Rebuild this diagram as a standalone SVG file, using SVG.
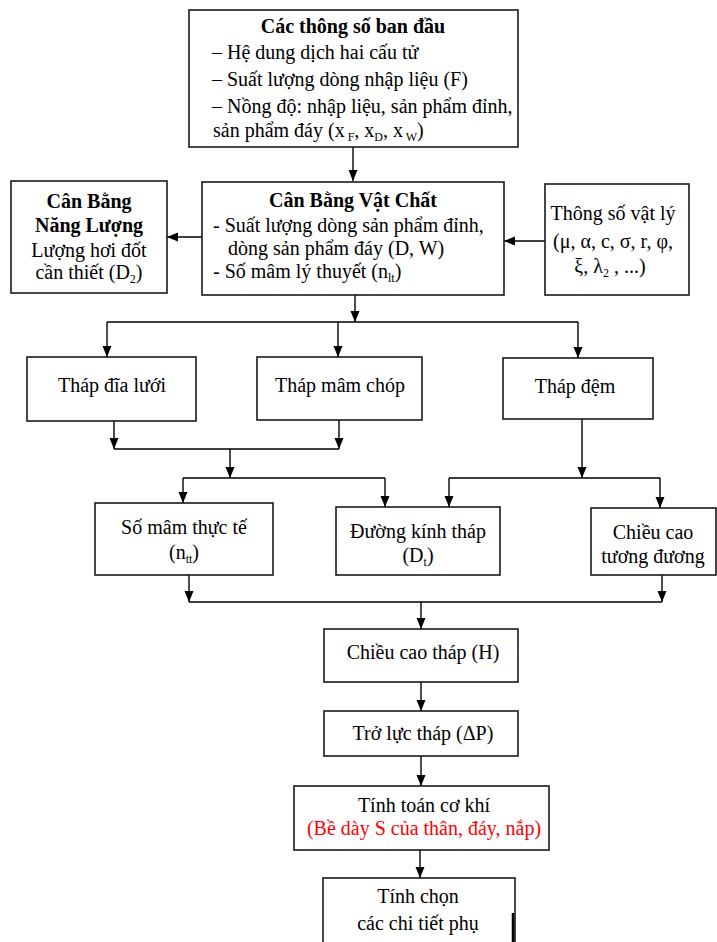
<svg xmlns="http://www.w3.org/2000/svg" width="717" height="942" viewBox="0 0 717 942">
<defs>
<marker id="ah" markerUnits="userSpaceOnUse" markerWidth="12" markerHeight="12" viewBox="0 0 12 12" refX="11" refY="6" orient="auto">
<path d="M0,1.5 L11,6 L0,10.5 Z" fill="#000"/>
</marker>
<style>
.box{fill:#fff;stroke:#1a1a1a;stroke-width:1.6}
.t{font-family:"Liberation Serif","Times New Roman",serif;font-size:20px;fill:#000}
.c{text-anchor:middle}
.b{font-weight:bold}
.red{fill:#ff0000}
.ln{fill:none;stroke:#000;stroke-width:1.4}
.ar{fill:none;stroke:#000;stroke-width:1.4;marker-end:url(#ah)}
.sub{font-size:12px}
.sq{fill:none;stroke:#3a9a3a;stroke-width:0.8}
</style>
</defs>
<rect width="717" height="942" fill="#fff"/>

<g id="connectors">
<line class="ar" x1="353" y1="147" x2="353" y2="181"/>
<line class="ar" x1="202" y1="237" x2="167" y2="237"/>
<line class="ar" x1="545" y1="241" x2="504" y2="241"/>
<line class="ar" x1="355" y1="295" x2="355" y2="322"/>
<line class="ln" x1="107" y1="322" x2="578" y2="322"/>
<line class="ar" x1="107" y1="322" x2="107" y2="357"/>
<line class="ar" x1="338" y1="322" x2="338" y2="357"/>
<line class="ar" x1="578" y1="322" x2="578" y2="358"/>
<line class="ar" x1="114" y1="421" x2="114" y2="449"/>
<line class="ar" x1="339" y1="420" x2="339" y2="449"/>
<line class="ln" x1="114" y1="449" x2="339" y2="449"/>
<line class="ar" x1="230" y1="449" x2="230" y2="478"/>
<line class="ln" x1="183" y1="478" x2="385" y2="478"/>
<line class="ar" x1="183" y1="478" x2="183" y2="503"/>
<line class="ar" x1="385" y1="478" x2="385" y2="507"/>
<line class="ar" x1="582" y1="419" x2="582" y2="478"/>
<line class="ln" x1="449" y1="478" x2="660" y2="478"/>
<line class="ar" x1="449" y1="478" x2="449" y2="507"/>
<line class="ar" x1="660" y1="478" x2="660" y2="508"/>
<line class="ar" x1="189" y1="575" x2="189" y2="602"/>
<line class="ar" x1="662" y1="575" x2="662" y2="602"/>
<line class="ln" x1="189" y1="602" x2="662" y2="602"/>
<line class="ar" x1="421" y1="602" x2="421" y2="629"/>
<line class="ar" x1="421" y1="682" x2="421" y2="711"/>
<line class="ar" x1="421" y1="756" x2="421" y2="786"/>
<line class="ar" x1="420" y1="850" x2="420" y2="878"/>
</g>

<g id="n-thongso-bandau">
<rect class="box" x="189" y="10" width="329" height="137"/>
<text class="t b c" x="353" y="33">Các thông số ban đầu</text>
<text class="t" x="212" y="59">– Hệ dung dịch hai cấu tử</text>
<text class="t" x="212" y="86">– Suất lượng dòng nhập liệu (F)</text>
<text class="t" x="212" y="113">– Nồng độ: nhập liệu, sản phẩm  đỉnh,</text>
<text class="t" x="213" y="137">sản phẩm  đáy (x<tspan class="sub" dy="4"> F</tspan><tspan dy="-4">, x</tspan><tspan class="sub" dy="4">D</tspan><tspan dy="-4">, x</tspan><tspan class="sub" dy="4"> W</tspan><tspan dy="-4">)</tspan></text>
</g>

<g id="n-canbang-nangluong">
<rect class="box" x="11" y="181" width="156" height="112"/>
<text class="t b c" x="89" y="208">Cân Bằng</text>
<text class="t b c" x="89" y="232">Năng Lượng</text>
<text class="t c" x="89" y="257">Lượng hơi đốt</text>
<text class="t c" x="89" y="279">cần thiết (D<tspan class="sub" dy="4">2</tspan><tspan dy="-4">)</tspan></text>
</g>

<g id="n-canbang-vatchat">
<rect class="box" x="202" y="182" width="302" height="113"/>
<text class="t b c" x="353" y="207">Cân Bằng Vật Chất</text>
<text class="t" x="213" y="232">- Suất lượng dòng sản phẩm  đỉnh,</text>
<text class="t" x="228" y="255">dòng sản phẩm  đáy (D, W)</text>
<text class="t" x="213" y="278">- Số mâm lý thuyết (n<tspan class="sub" dy="4">lt</tspan><tspan dy="-4">)</tspan></text>
</g>

<g id="n-thongso-vatly">
<rect class="box" x="545" y="184" width="144" height="111"/>
<text class="t c" x="613" y="220">Thông số vật lý</text>
<text class="t c" x="613" y="248">(μ, α, c, σ, r, φ,</text>
<text class="t c" x="610" y="273">ξ, λ<tspan class="sub" dy="4">2</tspan><tspan dy="-4"> , ...)</tspan></text>
</g>

<g id="n-thap-dia-luoi">
<rect class="box" x="27" y="357" width="169" height="64"/>
<text class="t c" x="112" y="392">Tháp đĩa lưới</text>
</g>

<g id="n-thap-mam-chop">
<rect class="box" x="257" y="357" width="165" height="63"/>
<text class="t c" x="340" y="392">Tháp mâm chóp</text>
</g>

<g id="n-thap-dem">
<rect class="box" x="503" y="358" width="150" height="61"/>
<text class="t c" x="575" y="393">Tháp đệm</text>
</g>

<g id="n-so-mam-thucte">
<rect class="box" x="95" y="503" width="178" height="72"/>
<text class="t c" x="184" y="534">Số mâm  thực tế</text>
<text class="t c" x="184" y="559">(n<tspan class="sub" dy="4">tt</tspan><tspan dy="-4">)</tspan></text>
</g>

<g id="n-duong-kinh">
<rect class="box" x="336" y="507" width="164" height="68"/>
<text class="t c" x="418" y="538">Đường kính tháp</text>
<text class="t c" x="418" y="562">(D<tspan class="sub" dy="4">t</tspan><tspan dy="-4">)</tspan></text>
</g>

<g id="n-chieu-cao-td">
<rect class="box" x="591" y="508" width="125" height="67"/>
<text class="t c" x="653" y="539">Chiều cao</text>
<text class="t c" x="653" y="563">tương đương</text>
</g>

<g id="n-chieu-cao-thap">
<rect class="box" x="324" y="629" width="194" height="53"/>
<text class="t c" x="423" y="659">Chiều cao tháp (H)</text>
</g>

<g id="n-tro-luc">
<rect class="box" x="324" y="711" width="194" height="45"/>
<text class="t c" x="423" y="740">Trở lực tháp (ΔP)</text>
</g>

<g id="n-tinh-toan-co-khi">
<rect class="box" x="294" y="786" width="255" height="64"/>
<text class="t c" x="424" y="812">Tính toán cơ khí</text>
<text class="t c red" x="424" y="835">(Bề dày S của thân, đáy, nắp)</text>
</g>

<g id="n-tinh-chon">
<rect class="box" x="323" y="878" width="192" height="80"/>
<line x1="513" y1="913" x2="513" y2="942" stroke="#000" stroke-width="2.5"/>
<text class="t c" x="418" y="903">Tính chọn</text>
<text class="t c" x="418" y="930">các chi tiết phụ</text>
</g>
</svg>
